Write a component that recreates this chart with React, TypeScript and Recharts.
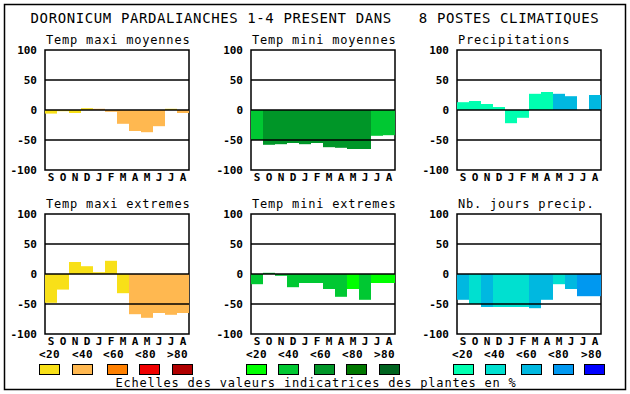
import React from "react";
import { BarChart, Bar, XAxis, YAxis, Cell, ReferenceLine, ReferenceArea } from "recharts";

const months = ["S", "O", "N", "D", "J", "F", "M", "A", "M", "J", "J", "A"];
const yTicks = [-100, -50, 0, 50, 100];
const legendLabels = ["<20", "<40", "<60", "<80", ">80"];

const orangePalette = ["#f8e018", "#ffb850", "#ff8000", "#f00000", "#b00000"];
const greenPalette = ["#00ff00", "#00c832", "#009628", "#007800", "#006420"];
const bluePalette = ["#00ffb0", "#00e0d0", "#00b8e0", "#0098f0", "#0000ff"];

const maxiMoyValues = [-6, -2, -5, 3, 2, -3, -23, -35, -37, -27, 2, -5];
const maxiMoyClass = [0, 0, 0, 0, 1, 1, 1, 1, 1, 1, 0, 1];

const miniMoyValues = [-50, -58, -57, -55, -57, -55, -62, -63, -65, -65, -43, -42];
const miniMoyClass = [1, 2, 2, 2, 2, 2, 2, 2, 2, 2, 1, 1];

const precipValues = [13, 15, 10, 5, -22, -13, 27, 30, 27, 23, 0, 25];
const precipClass = [0, 0, 0, 0, 0, 0, 0, 0, 2, 2, 0, 2];

const maxiExtValues = [-48, -26, 20, 13, 3, 22, -32, -67, -73, -65, -68, -65];
const maxiExtClass = [0, 0, 0, 0, 0, 0, 0, 1, 1, 1, 1, 1];

const miniExtValues = [-17, 2, -3, -22, -15, -15, -25, -38, -25, -43, -15, -15];
const miniExtClass = [1, 1, 1, 1, 1, 1, 1, 1, 0, 1, 0, 0];

const joursValues = [-43, -50, -55, -55, -55, -55, -57, -43, -17, -25, -37, -37];
const joursClass = [2, 1, 2, 1, 1, 1, 2, 2, 1, 2, 3, 3];

const titles = [
  "Temp maxi moyennes",
  "Temp mini moyennes",
  "Precipitations",
  "Temp maxi extremes",
  "Temp mini extremes",
  "Nb. jours precip.",
];
const mainTitle = "DORONICUM PARDALIANCHES 1-4 PRESENT DANS   8 POSTES CLIMATIQUES";
const footer = "Echelles des valeurs indicatrices des plantes en %";

const FONT = '"DejaVu Sans Mono", monospace';

const panels = [
  { values: maxiMoyValues, cls: maxiMoyClass, pal: orangePalette, left: 45, top: 50 },
  { values: miniMoyValues, cls: miniMoyClass, pal: greenPalette, left: 251, top: 50 },
  { values: precipValues, cls: precipClass, pal: bluePalette, left: 457, top: 50 },
  { values: maxiExtValues, cls: maxiExtClass, pal: orangePalette, left: 45, top: 214 },
  { values: miniExtValues, cls: miniExtClass, pal: greenPalette, left: 251, top: 214 },
  { values: joursValues, cls: joursClass, pal: bluePalette, left: 457, top: 214 },
];

const legendGroups = [
  { pal: orangePalette, labelX: [39, 72, 103, 135, 167], boxX: [39, 72, 107, 139, 172] },
  { pal: greenPalette, labelX: [246, 278, 310, 342, 374], boxX: [246, 278, 314, 346, 379] },
  { pal: bluePalette, labelX: [452, 484, 516, 548, 581], boxX: [453, 485, 521, 553, 584] },
];

const Y_W = 45;
const M_TOP = 8;
const PLOT_W = 144;
const PLOT_H = 120;
const X_H = 20;

function Panel({ p }: { p: (typeof panels)[number] }) {
  const data = p.values.map((v, i) => ({ i, v, c: p.cls[i] }));
  return (
    <div style={{ position: "absolute", left: p.left - Y_W, top: p.top - M_TOP }}>
      <BarChart
        width={Y_W + PLOT_W + 6}
        height={M_TOP + PLOT_H + X_H}
        data={data}
        margin={{ top: M_TOP, right: 6, bottom: 0, left: 0 }}
        barCategoryGap={0}
        barGap={0}
      >
        <XAxis
          dataKey="i"
          type="category"
          height={X_H}
          interval={0}
          tickFormatter={(i: number) => months[i]}
          axisLine={false}
          tickLine={false}
          tickSize={3}
          tickMargin={0}
          tick={{ fill: "#000", fontSize: 11, fontWeight: "bold", fontFamily: FONT }}
        />
        <YAxis
          type="number"
          domain={[-100, 100]}
          ticks={yTicks}
          interval={0}
          width={Y_W}
          axisLine={false}
          tickLine={false}
          tick={{ fill: "#000", fontSize: 11, fontWeight: "bold", fontFamily: FONT }}
        />
        <Bar dataKey="v" isAnimationActive={false}>
          {data.map((d) => (
            <Cell key={d.i} fill={p.pal[d.c]} />
          ))}
        </Bar>
        <ReferenceLine y={50} stroke="#000" strokeWidth={1.5} />
        <ReferenceLine y={0} stroke="#000" strokeWidth={1.5} />
        <ReferenceLine y={-50} stroke="#000" strokeWidth={1.5} />
        <ReferenceArea y1={-100} y2={100} fill="none" fillOpacity={0} stroke="#000" strokeWidth={1.5} />
      </BarChart>
    </div>
  );
}

export default function App() {
  return (
    <div style={{ position: "absolute", left: 0, top: 0, width: 630, height: 394, background: "#fff" }}>
      <svg width={630} height={394} style={{ position: "absolute", left: 0, top: 0 }}>
        <rect x={4.5} y={4.5} width={621} height={385} fill="none" stroke="#000" strokeWidth={1.5} />
        <text
          x={315}
          y={23}
          textAnchor="middle"
          fontFamily={FONT}
          fontSize={14}
          letterSpacing={0.6}
          fill="#000"
          style={{ whiteSpace: "pre" }}
        >
          {mainTitle}
        </text>
        {panels.map((p, k) => (
          <text
            key={k}
            x={p.left + 1}
            y={p.top - 6}
            fontFamily={FONT}
            fontSize={12}
            letterSpacing={0.8}
            fill="#000"
          >
            {titles[k]}
          </text>
        ))}
        {legendGroups.map((g, gi) => (
          <g key={gi}>
            {legendLabels.map((l, li) => (
              <text
                key={"t" + li}
                x={g.labelX[li]}
                y={358}
                fontFamily={FONT}
                fontSize={11}
                fontWeight="bold"
                letterSpacing={0.4}
                fill="#000"
              >
                {l}
              </text>
            ))}
            {g.pal.map((c, li) => (
              <rect key={"r" + li} x={g.boxX[li] + 0.5} y={364.5} width={20} height={10} fill={c} stroke="#000" strokeWidth={1} />
            ))}
          </g>
        ))}
        <text x={316} y={387} textAnchor="middle" fontFamily={FONT} fontSize={12} letterSpacing={0.8} fill="#000">
          {footer}
        </text>
      </svg>
      {panels.map((p, k) => (
        <Panel key={k} p={p} />
      ))}
    </div>
  );
}
